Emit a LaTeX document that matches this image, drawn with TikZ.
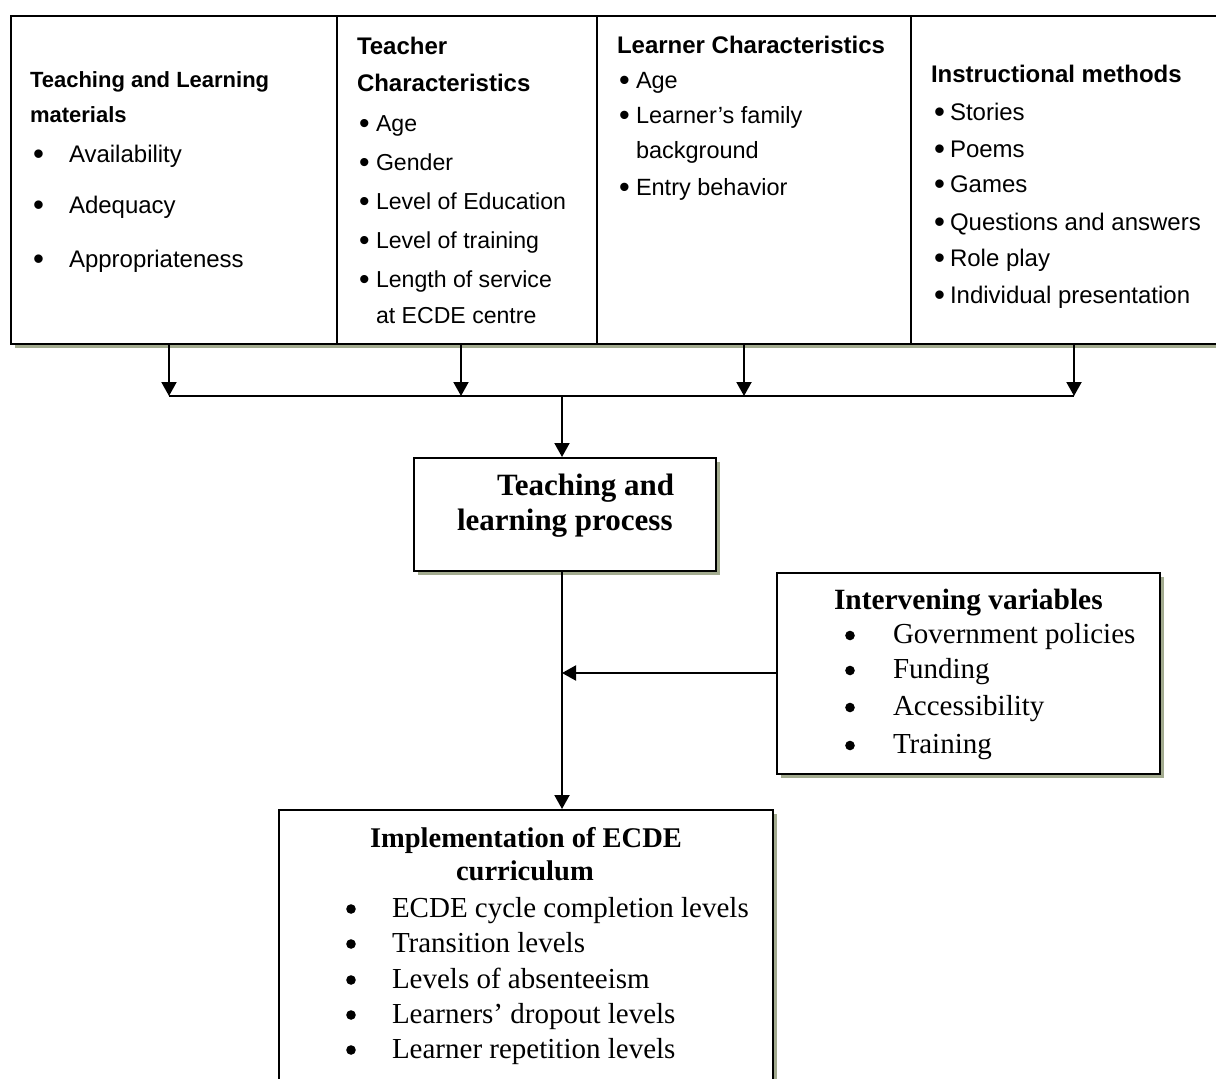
\documentclass[tikz,border=0pt]{standalone}
\usepackage{fontspec}
\setmainfont{Liberation Serif}
\newfontfamily\arial{Liberation Sans}
\usetikzlibrary{arrows.meta,shadows}
\definecolor{shadowcol}{RGB}{163,171,143}
\newcommand\sbul[1]{\makebox[#1][l]{\smash{\raisebox{-0.11em}{\scalebox{1.3}{\textbullet}}}}}
\begin{document}
\begin{tikzpicture}[x=1pt,y=-1pt,
  box/.style={draw=black,line width=2.4pt,fill=white,inner sep=0pt,anchor=north west,
     general shadow={fill=shadowcol,shadow xshift=4pt,shadow yshift=-4pt}},
  conn/.style={line width=2pt},
  arr/.style={line width=2pt,-{Triangle[length=14pt,width=15pt]}},
  t/.style={anchor=base west,inner sep=0pt,outer sep=0pt},
  sa/.style={t,font=\arial\fontsize{23.5}{28}\selectfont},
  sab/.style={t,font=\arial\fontsize{23.1}{28}\selectfont},
  sac/.style={t,font=\arial\fontsize{24}{28}\selectfont},
  sah/.style={t,font=\arial\bfseries\fontsize{24}{28}\selectfont},
  sahs/.style={t,font=\arial\bfseries\fontsize{22}{26}\selectfont},
  tr/.style={t,font=\fontsize{29}{34}\selectfont},
  trh/.style={t,font=\bfseries\fontsize{29.4}{34}\selectfont},
  trhp/.style={t,font=\bfseries\fontsize{31}{34}\selectfont},
  dot/.style={fill=black},
]
\useasboundingbox (0,0) rectangle (1216,1079);
\clip (0,0) rectangle (1216,1079);

% top boxes
\node[box,minimum width=326pt,minimum height=328pt] (b1) at (10,15) {};
\node[box,minimum width=260pt,minimum height=328pt] (b2) at (336,15) {};
\node[box,minimum width=314pt,minimum height=328pt] (b3) at (596,15) {};
\node[box,minimum width=320pt,minimum height=328pt] (b4) at (910,15) {};

% middle / bottom boxes
\node[box,minimum width=302pt,minimum height=113pt] (proc) at (413,457) {};
\node[box,minimum width=383pt,minimum height=201pt] (iv) at (776,572) {};
\node[box,minimum width=494pt,minimum height=320pt] (impl) at (278,809) {};

% box 1 text
\node[sahs] (h1a) at (30,87) {Teaching and Learning};
\node[sahs] (h1b) at (30,122) {materials};
\node[sac] (i1a) at (33,162) {\sbul{36pt}Availability};
\node[sac] (i1b) at (33,213) {\sbul{36pt}Adequacy};
\node[sac] (i1c) at (33,267) {\sbul{36pt}Appropriateness};

% box 2 text
\node[sah] (h2a) at (357,54) {Teacher};
\node[sah] (h2b) at (357,91) {Characteristics};
\node[sab] (i2a) at (359,131) {\sbul{17pt}Age};
\node[sab] (i2b) at (359,170) {\sbul{17pt}Gender};
\node[sab] (i2c) at (359,209) {\sbul{17pt}Level of Education};
\node[sab] (i2d) at (359,248) {\sbul{17pt}Level of training};
\node[sab] (i2e) at (359,287) {\sbul{17pt}Length of service};
\node[sab] (i2f) at (376,323) {at ECDE centre};

% box 3 text
\node[sah] (h3) at (617,53) {Learner Characteristics};
\node[sa] (i3a) at (619,88) {\sbul{17pt}Age};
\node[sa] (i3b) at (619,123) {\sbul{17pt}Learner’s family};
\node[sa] (i3c) at (636,158) {background};
\node[sa] (i3d) at (619,195) {\sbul{17pt}Entry behavior};

% box 4 text
\node[sah] (h4) at (931,82) {Instructional methods};
\node[sac] (i4a) at (934,120) {\sbul{16pt}Stories};
\node[sac] (i4b) at (934,157) {\sbul{16pt}Poems};
\node[sac] (i4c) at (934,192) {\sbul{16pt}Games};
\node[sac] (i4d) at (934,230) {\sbul{16pt}Questions and answers};
\node[sac] (i4e) at (934,266) {\sbul{16pt}Role play};
\node[sac] (i4f) at (934,303) {\sbul{16pt}Individual presentation};

% process box text
\node[trhp] (p1) at (497,495) {Teaching and};
\node[trhp] (p2) at (457,530) {learning process};

% intervening text
\node[trh] (ivh) at (834,609) {Intervening variables};
\node[tr] (iva) at (893,643) {Government policies};
\node[tr] (ivb) at (893,678) {Funding};
\node[tr] (ivc) at (893,715) {Accessibility};
\node[tr] (ivd) at (893,753) {Training};
\foreach \yy in {643,678,715,753} \fill[dot] (850,\yy-7.5) circle (4.8);

% implementation text
\node[t,font=\bfseries\fontsize{28.5}{34}\selectfont] (imh1) at (370,847) {Implementation of ECDE};
\node[t,font=\bfseries\fontsize{28.5}{34}\selectfont] (imh2) at (456,880) {curriculum};
\node[tr] (ima) at (392,917) {ECDE cycle completion levels};
\node[tr] (imb) at (392,952) {Transition levels};
\node[tr] (imc) at (392,988) {Levels of absenteeism};
\node[tr] (imd) at (392,1023) {Learners’ dropout levels};
\node[tr] (ime) at (392,1058) {Learner repetition levels};
\foreach \yy in {917,952,988,1023,1058} \fill[dot] (351,\yy-8) circle (4.8);

% connectors
\coordinate (j1) at (169,396);
\coordinate (j2) at (461,396);
\coordinate (j3) at (744,396);
\coordinate (j4) at (1074,396);
\coordinate (jm) at (562,396);
\draw[conn] (j1) -- (j4);
\draw[arr] (b1.south -| j1) -- (j1);
\draw[arr] (b2.south -| j2) -- (j2);
\draw[arr] (b3.south -| j3) -- (j3);
\draw[arr] (b4.south -| j4) -- (j4);
\draw[arr] (jm) -- (jm |- proc.north);
\draw[arr] (proc.south -| jm) -- (jm |- impl.north);
\coordinate (ivw) at (776,673);
\draw[arr] (ivw) -- (ivw -| jm);
\end{tikzpicture}
\end{document}
